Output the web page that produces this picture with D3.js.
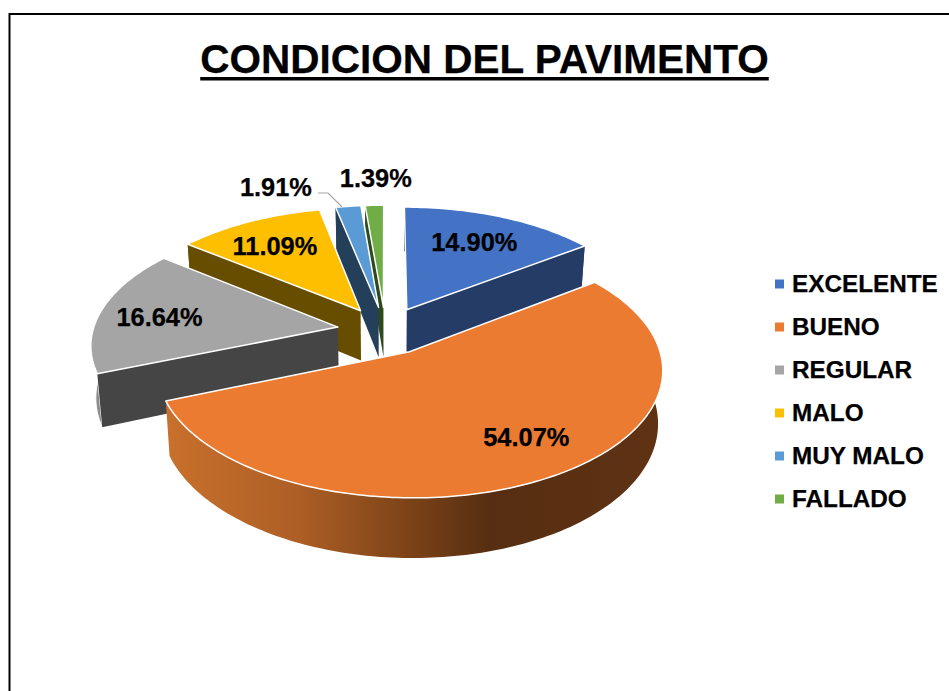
<!DOCTYPE html>
<html><head><meta charset="utf-8">
<script src="https://d3js.org/d3.v7.min.js"></script>
<style>html,body{margin:0;padding:0;background:#fff;overflow:hidden}svg{display:block}text{font-family:"Liberation Sans",Arial,sans-serif;font-weight:700;fill:#000;stroke:#000;stroke-width:.25px}</style>
</head><body><svg id="c" width="949" height="691"></svg>
<script>
const categories = ["EXCELENTE","BUENO","REGULAR","MALO","MUY MALO","FALLADO"];
const values = [14.90,54.07,16.64,11.09,1.91,1.39];
const topColors = ["#4472c4","#ea7b31","#a5a5a5","#fdbf00","#5b9bd5","#70ad47"];
const wallColors = ["#243c66","#8a4a1e","#454545","#664d00","#243f59","#2d4a1c"];
const rimColors = ["#243c66","url(#rimOrange)","#8c8c8c","#664d00","#243f59","#2d4a1c"];
const drawOrder = [5,4,3,2,0,1];
const visibleFace = ["endAngle",null,"startAngle","startAngle","startAngle","startAngle"];
const labelRadius = [0.70,0.745,0.745,0.72,1.31,1.31];
const labelTurn = [-0.4,-5.3,-2,-1.2,-14,0.8];

// projection of the tilted exploded pie (plane + perspective)
const cx=385.5, cy=330.5, A=245, B=121, P=0.13, EXPLODE=0.197, DEPTH=51, CONVERGE=0.983;
const svg=d3.select("#c");
const pie=d3.pie().value(d=>d).sort(null)(values);
const line=d3.line();

function plane(sl,r,a){
  const m=(sl.startAngle+sl.endAngle)/2;
  return [EXPLODE*Math.sin(m)+r*Math.sin(a), EXPLODE*Math.cos(m)+r*Math.cos(a)];
}
function proj(sl,r,a,low){
  const [u,v]=plane(sl,r,a), w=1+P*v;
  const x=A*u/w, y=-B*v/w;
  return low ? [cx+x*CONVERGE, cy+y+DEPTH/w] : [cx+x, cy+y];
}
function arcPts(sl,low,rev){
  const n=Math.max(6,Math.ceil((sl.endAngle-sl.startAngle)/0.02));
  const pts=d3.range(n+1).map(i=>proj(sl,1,sl.startAngle+(sl.endAngle-sl.startAngle)*i/n,low));
  return rev?pts.reverse():pts;
}

// rim gradient for the large slice
const grad=svg.append("defs").append("linearGradient").attr("id","rimOrange")
  .attr("gradientUnits","userSpaceOnUse").attr("x1",168).attr("x2",662).attr("y1",0).attr("y2",0);
[[0,"#c8702c"],[0.26,"#ae5f26"],[0.47,"#804518"],[0.65,"#572e12"],[1,"#5f3213"]]
  .forEach(s=>grad.append("stop").attr("offset",s[0]).attr("stop-color",s[1]));

// frame
svg.append("path").attr("d",line([[9.5,691],[9.5,14],[949,14]])).attr("fill","none").attr("stroke","#000").attr("stroke-width",2);

// title
const title=svg.append("text").attr("x",484.5).attr("y",73).attr("text-anchor","middle").style("font-size","40.5px").text("CONDICION DEL PAVIMENTO");
const tw=title.node().getComputedTextLength();
svg.append("rect").attr("x",484.5-tw/2).attr("y",77).attr("width",tw).attr("height",3.5).attr("fill","#000");

// slices, back to front
drawOrder.forEach(i=>{
  const sl=pie[i], g=svg.append("g");
  g.append("path").attr("d",line(arcPts(sl,false,false).concat(arcPts(sl,true,true)))+"Z")
    .attr("fill",rimColors[i]).attr("stroke",i===2?"#fff":"none").attr("stroke-width",1);
  if(visibleFace[i]){
    const a=sl[visibleFace[i]];
    g.append("path").attr("d",line([proj(sl,0,a,false),proj(sl,1,a,false),proj(sl,1,a,true),proj(sl,0,a,true)])+"Z")
      .attr("fill",wallColors[i]);
  }
  const topPts=[proj(sl,0,0,false)].concat(arcPts(sl,false,false));
  g.append("path").attr("d",line(topPts)+"Z").attr("fill",topColors[i])
    .attr("stroke","#fff").attr("stroke-width",1.5).attr("stroke-linejoin","round");
});

// leader line for the small slice
const mm=pie[4], mmMid=(mm.startAngle+mm.endAngle)/2;
const mmEnd=proj(mm,1.0,mmMid-0.03,false);
svg.append("path").attr("d",line([[318,193],[328,193],mmEnd])).attr("fill","none").attr("stroke","#a6a6a6").attr("stroke-width",1.2);

// data labels
pie.forEach((sl,i)=>{
  const mid=(sl.startAngle+sl.endAngle)/2+labelTurn[i]*Math.PI/180;
  const p=proj(sl,labelRadius[i],mid,false);
  svg.append("text").attr("x",p[0]).attr("y",p[1]).attr("dy","0.35em").attr("text-anchor","middle")
    .style("font-size","25.4px").text(values[i].toFixed(2)+"%");
});

// legend
const ly=d3.scalePoint().domain(categories).range([284,499]);
categories.forEach((c,i)=>{
  svg.append("rect").attr("x",775).attr("y",ly(c)-4.5).attr("width",9).attr("height",9).attr("fill",topColors[i]);
  svg.append("text").attr("x",792).attr("y",ly(c)).attr("dy","0.31em").style("font-size","24.3px").text(c);
});
</script></body></html>
